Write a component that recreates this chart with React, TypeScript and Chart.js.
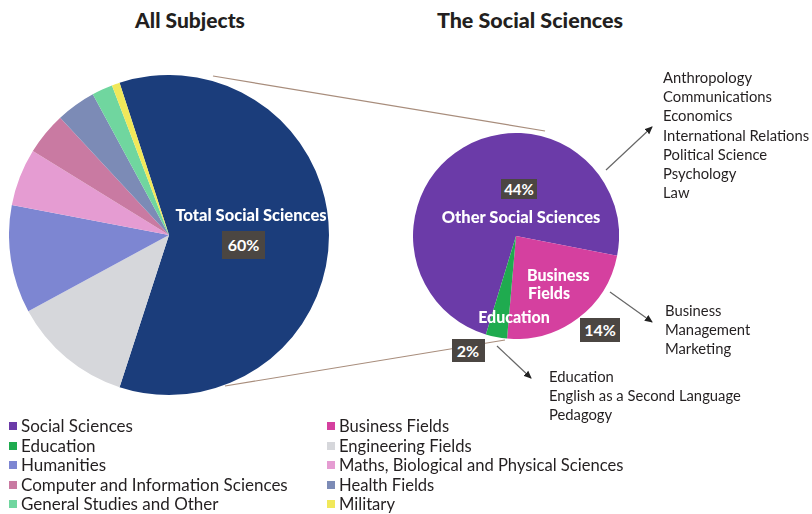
import React, { useEffect, useRef } from "react";
import { Chart, registerables } from "chart.js";

Chart.register(...registerables);

// ---------- data ----------
const allSubjectsLabels = [
  "Social Sciences",
  "Engineering Fields",
  "Humanities",
  "Maths, Biological and Physical Sciences",
  "Computer and Information Sciences",
  "Health Fields",
  "General Studies and Other",
  "Military",
];
const allSubjectsValues = [60, 12.1, 10.9, 5.8, 4.3, 4.0, 2.1, 0.8];
const allSubjectsColors = [
  "#1b3d7b",
  "#d6d7db",
  "#7d86d2",
  "#e59cd2",
  "#c97aa2",
  "#7c8bb6",
  "#70d69f",
  "#f1e85a",
];

const socialLabels = ["Other Social Sciences", "Business Fields", "Education"];
const socialValues = [44, 14, 2];
const socialColors = ["#6b3ba8", "#d5409f", "#1fab4f"];

const otherSocialList = [
  "Anthropology",
  "Communications",
  "Economics",
  "International Relations",
  "Political Science",
  "Psychology",
  "Law",
];
const businessList = ["Business", "Management", "Marketing"];
const educationList = ["Education", "English as a Second Language", "Pedagogy"];

const legendLeft = [
  { label: "Social Sciences", color: "#6b3ba8" },
  { label: "Education", color: "#1fab4f" },
  { label: "Humanities", color: "#7d86d2" },
  { label: "Computer and Information Sciences", color: "#c97aa2" },
  { label: "General Studies and Other", color: "#70d69f" },
];
const legendRight = [
  { label: "Business Fields", color: "#d5409f" },
  { label: "Engineering Fields", color: "#d6d7db" },
  { label: "Maths, Biological and Physical Sciences", color: "#e59cd2" },
  { label: "Health Fields", color: "#7c8bb6" },
  { label: "Military", color: "#f1e85a" },
];

const FONT = "Lato, 'Open Sans', sans-serif";
const TEXT = "#231f20";

type PieProps = {
  labels: string[];
  values: number[];
  colors: string[];
  rotation: number;
  size: number;
  left: number;
  top: number;
};

function Pie({ labels, values, colors, rotation, size, left, top }: PieProps) {
  const ref = useRef<HTMLCanvasElement | null>(null);
  useEffect(() => {
    if (!ref.current) return;
    const chart = new Chart(ref.current, {
      type: "pie",
      data: {
        labels,
        datasets: [
          {
            data: values,
            backgroundColor: colors,
            borderWidth: 0,
            hoverOffset: 0,
          },
        ],
      },
      options: {
        responsive: false,
        animation: false,
        rotation,
        layout: { padding: 0 },
        plugins: {
          legend: { display: false },
          tooltip: { enabled: false },
        },
        events: [],
      },
    });
    return () => chart.destroy();
  }, []);
  return (
    <canvas
      ref={ref}
      width={size}
      height={size}
      style={{ position: "absolute", left, top, width: size, height: size }}
    />
  );
}

function Box({ text, cx, cy, w, h, fs }: { text: string; cx: number; cy: number; w: number; h: number; fs: number }) {
  return (
    <div
      style={{
        position: "absolute",
        left: cx - w / 2,
        top: cy - h / 2,
        width: w,
        height: h,
        background: "#4b4642",
        color: "#fff",
        fontWeight: 700,
        fontSize: fs,
        lineHeight: `${h}px`,
        textAlign: "center",
        fontFamily: FONT,
      }}
    >
      {text}
    </div>
  );
}

function Label({ text, cx, cy, fs, color, weight, align }: { text: string; cx: number; cy: number; fs: number; color: string; weight?: number; align?: "left" | "center" }) {
  const a = align || "center";
  return (
    <div
      style={{
        position: "absolute",
        left: a === "center" ? cx - 200 : cx,
        top: cy - 12,
        width: 400,
        height: 24,
        lineHeight: "24px",
        textAlign: a,
        fontSize: fs,
        fontWeight: weight || 400,
        color,
        fontFamily: FONT,
        whiteSpace: "nowrap",
      }}
    >
      {text}
    </div>
  );
}

export default function App() {
  return (
    <div
      style={{
        position: "absolute",
        left: 0,
        top: 0,
        width: 812,
        height: 514,
        background: "#fff",
        overflow: "hidden",
        fontFamily: FONT,
      }}
    >
      <Label text="All Subjects" cx={190} cy={20} fs={21} color={TEXT} weight={900} />
      <Label text="The Social Sciences" cx={530} cy={20} fs={21.5} color={TEXT} weight={900} />

      <Pie
        labels={allSubjectsLabels}
        values={allSubjectsValues}
        colors={allSubjectsColors}
        rotation={-18}
        size={320}
        left={9}
        top={75}
      />
      <Pie
        labels={socialLabels}
        values={socialValues}
        colors={socialColors}
        rotation={197}
        size={206}
        left={413}
        top={133}
      />

      <svg
        width={812}
        height={514}
        style={{ position: "absolute", left: 0, top: 0 }}
      >
        <defs>
          <marker id="ah" markerWidth="8" markerHeight="8" refX="7" refY="4" orient="auto" markerUnits="userSpaceOnUse">
            <path d="M0,0.5 L8,4 L0,7.5 Z" fill="#222" />
          </marker>
        </defs>
        <line x1={213} y1={76} x2={545} y2={131} stroke="#a88d7c" strokeWidth={1.2} />
        <line x1={225} y1={386} x2={505} y2={340} stroke="#a88d7c" strokeWidth={1.2} />
        <line x1={606} y1={170} x2={652} y2={127} stroke="#666" strokeWidth={1.2} markerEnd="url(#ah)" />
        <line x1={610} y1={292} x2={652} y2={322} stroke="#666" strokeWidth={1.2} markerEnd="url(#ah)" />
        <line x1={497} y1={346} x2={531} y2={378} stroke="#666" strokeWidth={1.2} markerEnd="url(#ah)" />
      </svg>

      <Label text="Total Social Sciences" cx={251} cy={215} fs={16.5} color="#fff" weight={900} />
      <Box text={`${allSubjectsValues[0]}%`} cx={243.5} cy={245} w={43} h={28} fs={16} />

      <Label text={socialLabels[0]} cx={521} cy={217} fs={16.5} color="#fff" weight={900} />
      <Box text={`${socialValues[0]}%`} cx={519} cy={189} w={36} h={20} fs={15} />
      <Label text="Business" cx={527} cy={275} fs={16} color="#fff" weight={900} align="left" />
      <Label text="Fields" cx={528} cy={293} fs={16} color="#fff" weight={900} align="left" />
      <Box text={`${socialValues[1]}%`} cx={600} cy={330} w={40} h={24} fs={16} />
      <Label text={socialLabels[2]} cx={514} cy={317} fs={16} color="#fff" weight={900} />
      <Box text={`${socialValues[2]}%`} cx={468} cy={350} w={33} h={23} fs={16} />

      {otherSocialList.map((t, i) => (
        <Label key={t} text={t} cx={663} cy={77 + i * 19.2} fs={14.8} color={TEXT} align="left" />
      ))}
      {businessList.map((t, i) => (
        <Label key={t} text={t} cx={665} cy={310 + i * 19} fs={14.8} color={TEXT} align="left" />
      ))}
      {educationList.map((t, i) => (
        <Label key={t} text={t} cx={549} cy={376 + i * 19} fs={14.8} color={TEXT} align="left" />
      ))}

      {legendLeft.map((it, i) => (
        <React.Fragment key={it.label}>
          <div style={{ position: "absolute", left: 9, top: 426 + i * 19.5 - 4, width: 8, height: 8, background: it.color }} />
          <Label text={it.label} cx={21} cy={426 + i * 19.5} fs={17} color={TEXT} align="left" />
        </React.Fragment>
      ))}
      {legendRight.map((it, i) => (
        <React.Fragment key={it.label}>
          <div style={{ position: "absolute", left: 327, top: 426 + i * 19.5 - 4, width: 8, height: 8, background: it.color }} />
          <Label text={it.label} cx={339} cy={426 + i * 19.5} fs={16.6} color={TEXT} align="left" />
        </React.Fragment>
      ))}
    </div>
  );
}
